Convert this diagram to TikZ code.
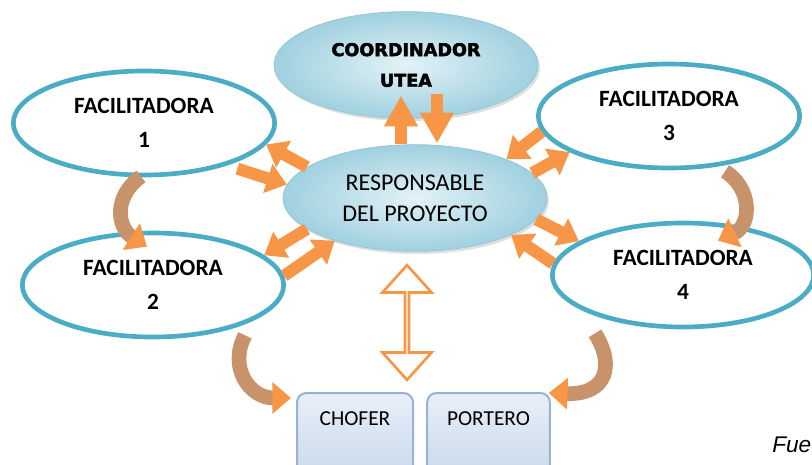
\documentclass[tikz,border=0pt]{standalone}
\usepackage{fontspec}
\setmainfont{Carlito}
\newfontfamily\headfont{DejaVu Sans}[BoldFeatures={FakeBold=2.6}]
\newfontfamily\notefont{Liberation Sans}
\usetikzlibrary{shapes.geometric,shapes.arrows,arrows.meta,shadows,calc}
\definecolor{facblue}{RGB}{75,172,198}
\definecolor{arroworange}{RGB}{247,150,70}
\definecolor{curvebrown}{RGB}{200,146,106}
\definecolor{respinner}{RGB}{226,242,247}
\definecolor{respouter}{RGB}{160,208,223}
\definecolor{respedge}{RGB}{150,200,215}
\definecolor{boxtop}{RGB}{232,239,248}
\definecolor{boxbottom}{RGB}{185,205,229}
\definecolor{boxedge}{RGB}{149,179,215}

\begin{document}
\begin{tikzpicture}[x=0.75pt, y=-0.75pt,
    facil/.style={ellipse, draw=facblue, line width=3.5pt, fill=white, minimum width=196pt, minimum height=78pt, align=center, font=\bfseries\fontsize{17.5}{25}\selectfont},
    central/.style={ellipse, draw=respedge, line width=0.6pt, inner color=respinner, outer color=respouter, drop shadow={opacity=0.25, shadow xshift=1.5pt, shadow yshift=-2pt}, minimum width=198pt, minimum height=80pt, align=center},
    staff/.style={rectangle, rounded corners=7pt, draw=boxedge, line width=1.5pt, top color=boxtop, bottom color=boxbottom, anchor=north, text height=10pt, text depth=60pt, inner ysep=14pt, font=\fontsize{16}{19}\selectfont},
    link/.style={draw=arroworange, line width=9pt, -{Triangle[width=22pt,length=15pt]}},
    turn/.style={draw=curvebrown, line width=11pt, -{Triangle[width=23pt,length=14pt,color=arroworange]}}
]
\useasboundingbox (0,0) rectangle (812,464);

% Central ellipses
\node[central, font=\headfont\bfseries\fontsize{13.2}{23}\selectfont] (coord) at (406,65) {COORDINADOR\\UTEA};
\node[central, font=\fontsize{18}{23}\selectfont] (resp) at (415,198) {RESPONSABLE\\DEL PROYECTO};

% Facilitadoras
\node[facil] (fac1) at (144,123) {FACILITADORA\\1};
\node[facil] (fac2) at (153,285) {FACILITADORA\\2};
\node[facil] (fac3) at (669,116) {FACILITADORA\\3};
\node[facil] (fac4) at (683,275) {FACILITADORA\\4};

% Staff boxes
\node[staff, minimum width=87pt] (chofer) at (355,392) {CHOFER};
\node[staff, minimum width=92pt] (portero) at (488.5,392) {PORTERO};

% Hollow double arrow
\node[double arrow, draw=arroworange, line width=2pt, fill=white, rotate=90, minimum height=86pt, minimum width=37pt, double arrow head extend=11pt, double arrow tip angle=84, inner sep=0pt] (lift) at (407,322.5) {};

% Arrows to and from the coordinator
\draw[link, -{Triangle[width=24pt,length=23pt]}] ($(resp.north)+(-14,0)$) -- ($(coord.south)+(-5,-23)$);
\draw[link, -{Triangle[width=24pt,length=23pt]}] ($(coord.south)+(31,-25)$) -- ($(resp.north)+(22,-1)$);

% Arrows between the facilitadoras and the centre
\draw[link, shorten <=8pt] (fac1.-27) -- (resp.174);
\draw[link] (resp.164) -- (fac1.-10);
\draw[link] (resp.196) -- (fac2.15);
\draw[link] (fac2.4) -- (resp.208);
\draw[link] (fac3.187) -- (resp.23);
\draw[link] (resp.12) -- (fac3.200);
\draw[link] (resp.-10) -- (fac4.162);
\draw[link] (fac4.175) -- (resp.-21);

% Curved arrows
\draw[turn] ($(fac1.south)+(-3,-1)$) .. controls (112,198) and (118,228) .. ($(fac2.north)+(-6,16)$);
\draw[turn] ($(fac3.south)+(56,1)$) .. controls (752,188) and (752,225) .. ($(fac4.north)+(35,20)$);
\draw[turn] ($(fac2.south)+(92,-4)$) .. controls (228,368) and (250,398) .. ($(chofer.north west)+(-5,6)$);
\draw[turn] ($(fac4.south)+(-88,4)$) .. controls (615,365) and (607,395) .. ($(portero.north east)+(-2,1)$);

% Source note
\node[anchor=base west, inner sep=0pt, font=\notefont\itshape\fontsize{17}{20}\selectfont] (fuente) at (772,452) {Fue};

\end{tikzpicture}
\end{document}
